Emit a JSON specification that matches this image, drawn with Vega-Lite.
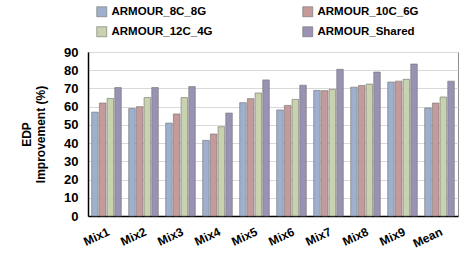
{
  "$schema": "https://vega.github.io/schema/vega-lite/v6.json",
  "autosize": {"type": "none"},
  "padding": {"left": 88, "top": 52, "right": 12, "bottom": 44},
  "width": 370,
  "height": 164,
  "config": {
    "font": "Liberation Sans",
    "view": {"stroke": "#8c8c8c", "strokeWidth": 1},
    "axis": {"labelFont": "Liberation Sans", "titleFont": "Liberation Sans"}
  },
  "data": {
    "values": [
      {"mix": "Mix1", "config": "ARMOUR_8C_8G", "value": 57},
      {"mix": "Mix1", "config": "ARMOUR_10C_6G", "value": 62},
      {"mix": "Mix1", "config": "ARMOUR_12C_4G", "value": 64.5},
      {"mix": "Mix1", "config": "ARMOUR_Shared", "value": 70.5},
      {"mix": "Mix2", "config": "ARMOUR_8C_8G", "value": 59},
      {"mix": "Mix2", "config": "ARMOUR_10C_6G", "value": 60},
      {"mix": "Mix2", "config": "ARMOUR_12C_4G", "value": 65},
      {"mix": "Mix2", "config": "ARMOUR_Shared", "value": 70.5},
      {"mix": "Mix3", "config": "ARMOUR_8C_8G", "value": 51},
      {"mix": "Mix3", "config": "ARMOUR_10C_6G", "value": 56},
      {"mix": "Mix3", "config": "ARMOUR_12C_4G", "value": 65},
      {"mix": "Mix3", "config": "ARMOUR_Shared", "value": 71},
      {"mix": "Mix4", "config": "ARMOUR_8C_8G", "value": 41.5},
      {"mix": "Mix4", "config": "ARMOUR_10C_6G", "value": 45},
      {"mix": "Mix4", "config": "ARMOUR_12C_4G", "value": 49},
      {"mix": "Mix4", "config": "ARMOUR_Shared", "value": 56.5},
      {"mix": "Mix5", "config": "ARMOUR_8C_8G", "value": 62.2},
      {"mix": "Mix5", "config": "ARMOUR_10C_6G", "value": 64.4},
      {"mix": "Mix5", "config": "ARMOUR_12C_4G", "value": 67.5},
      {"mix": "Mix5", "config": "ARMOUR_Shared", "value": 74.7},
      {"mix": "Mix6", "config": "ARMOUR_8C_8G", "value": 58.2},
      {"mix": "Mix6", "config": "ARMOUR_10C_6G", "value": 60.7},
      {"mix": "Mix6", "config": "ARMOUR_12C_4G", "value": 64},
      {"mix": "Mix6", "config": "ARMOUR_Shared", "value": 71.8},
      {"mix": "Mix7", "config": "ARMOUR_8C_8G", "value": 68.9},
      {"mix": "Mix7", "config": "ARMOUR_10C_6G", "value": 68.8},
      {"mix": "Mix7", "config": "ARMOUR_12C_4G", "value": 69.5},
      {"mix": "Mix7", "config": "ARMOUR_Shared", "value": 80.5},
      {"mix": "Mix8", "config": "ARMOUR_8C_8G", "value": 70.7},
      {"mix": "Mix8", "config": "ARMOUR_10C_6G", "value": 71.6},
      {"mix": "Mix8", "config": "ARMOUR_12C_4G", "value": 72.4},
      {"mix": "Mix8", "config": "ARMOUR_Shared", "value": 79},
      {"mix": "Mix9", "config": "ARMOUR_8C_8G", "value": 73.5},
      {"mix": "Mix9", "config": "ARMOUR_10C_6G", "value": 74},
      {"mix": "Mix9", "config": "ARMOUR_12C_4G", "value": 75},
      {"mix": "Mix9", "config": "ARMOUR_Shared", "value": 83.4},
      {"mix": "Mean", "config": "ARMOUR_8C_8G", "value": 59.3},
      {"mix": "Mean", "config": "ARMOUR_10C_6G", "value": 62},
      {"mix": "Mean", "config": "ARMOUR_12C_4G", "value": 65.3},
      {"mix": "Mean", "config": "ARMOUR_Shared", "value": 74}
    ]
  },
  "mark": {"type": "bar", "stroke": "#6f6f6f", "strokeWidth": 0.6},
  "encoding": {
    "x": {
      "field": "mix", "type": "nominal", "sort": null,
      "scale": {"paddingInner": 0.2, "paddingOuter": 0.1},
      "axis": {
        "title": null, "labelAngle": -25, "labelAlign": "right", "labelBaseline": "top",
        "labelFontSize": 12, "labelFontWeight": "bold", "labelColor": "#000",
        "labelPadding": 10, "ticks": false, "domainColor": "#000", "domainWidth": 1.5
      }
    },
    "xOffset": {
      "field": "config", "type": "nominal",
      "sort": ["ARMOUR_8C_8G", "ARMOUR_10C_6G", "ARMOUR_12C_4G", "ARMOUR_Shared"],
      "scale": {"paddingInner": 0.15}
    },
    "y": {
      "field": "value", "type": "quantitative",
      "scale": {"domain": [0, 90], "nice": false},
      "axis": {
        "title": ["EDP", "Improvement (%)"], "titleFontSize": 12, "titleFontWeight": "bold",
        "titleColor": "#000", "titlePadding": 16, "titleLineHeight": 14,
        "values": [0, 10, 20, 30, 40, 50, 60, 70, 80, 90],
        "labelFontSize": 13, "labelFontWeight": "bold", "labelColor": "#000",
        "ticks": false, "labelPadding": 10,
        "gridColor": "#d9d9d9", "gridWidth": 1,
        "domainColor": "#000", "domainWidth": 1.5
      }
    },
    "color": {
      "field": "config", "type": "nominal",
      "sort": ["ARMOUR_8C_8G", "ARMOUR_10C_6G", "ARMOUR_12C_4G", "ARMOUR_Shared"],
      "scale": {
        "domain": ["ARMOUR_8C_8G", "ARMOUR_10C_6G", "ARMOUR_12C_4G", "ARMOUR_Shared"],
        "range": ["#9fb0cf", "#c49a9a", "#c8d2ae", "#9a92b3"]
      },
      "legend": {
        "title": null, "orient": "none", "legendX": 8, "legendY": -46,
        "direction": "horizontal", "columns": 2, "columnPadding": 88, "rowPadding": 7,
        "labelFontSize": 11.5, "labelFontWeight": "bold", "labelColor": "#000",
        "symbolType": "square", "symbolSize": 100, "symbolStrokeColor": "#6f6f6f", "symbolStrokeWidth": 0.6,
        "labelLimit": 200
      }
    }
  }
}
